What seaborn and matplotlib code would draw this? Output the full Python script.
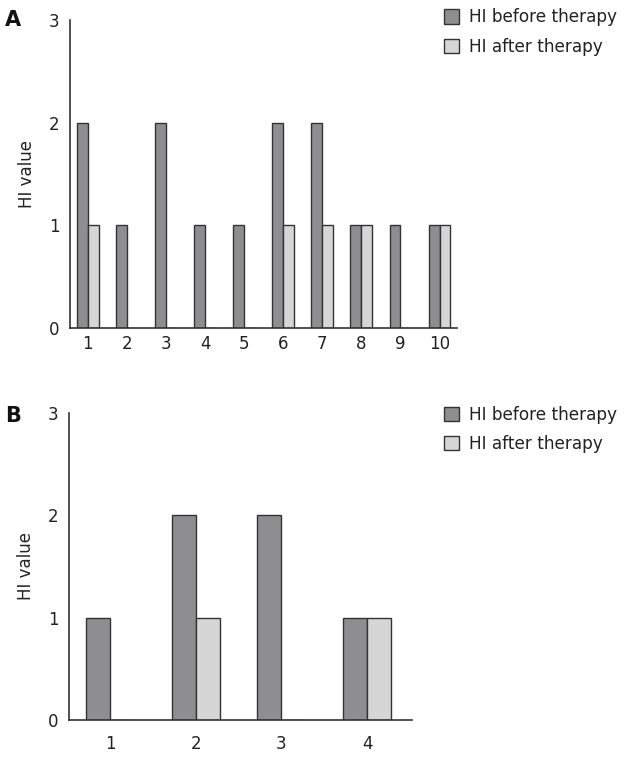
import pandas as pd
import matplotlib
matplotlib.use("Agg")
import matplotlib.pyplot as plt
import seaborn as sns
from matplotlib.patches import Patch

# Panel A data
patients_a = ["1", "2", "3", "4", "5", "6", "7", "8", "9", "10"]
before_a = [2, 1, 2, 1, 1, 2, 2, 1, 1, 1]
after_a = [1, 0, 0, 0, 0, 1, 1, 1, 0, 1]

# Panel B data
patients_b = ["1", "2", "3", "4"]
before_b = [1, 2, 2, 1]
after_b = [0, 1, 0, 1]

series_names = ["HI before therapy", "HI after therapy"]
dark = "#8e8e90"
light = "#d6d6d6"
edge = "#333333"

sns.set_style("white")
plt.rcParams["font.family"] = ["DejaVu Sans"]


def long_table(patients, before, after):
    rows = []
    for p, b, a in zip(patients, before, after):
        rows.append({"patient": p, "series": series_names[0], "value": b})
        rows.append({"patient": p, "series": series_names[1], "value": a})
    return pd.DataFrame(rows)


fig = plt.figure(figsize=(6.3, 7.67), dpi=100)
ax_a = fig.add_axes([0.111, 0.5724, 0.614, 0.4016])
ax_b = fig.add_axes([0.1095, 0.0613, 0.544, 0.4003])

panels = [
    (ax_a, long_table(patients_a, before_a, after_a), (-0.46, 9.44), "A", 0.974, 5),
    (ax_b, long_table(patients_b, before_b, after_b), (-0.48, 3.52), "B", 0.457, 11),
]

for ax, df, xlim, letter, ly, xpad in panels:
    sns.barplot(data=df, x="patient", y="value", hue="series",
                hue_order=series_names, palette=[dark, light],
                width=0.56, edgecolor=edge, linewidth=1.0,
                saturation=1, ax=ax, legend=False)
    ax.set_xlim(*xlim)
    ax.set_ylim(0, 3)
    ax.set_yticks([0, 1, 2, 3])
    ax.set_xlabel("")
    ax.set_ylabel("HI value", fontsize=12, color="#222222", labelpad=9)
    for s in ["top", "right"]:
        ax.spines[s].set_visible(False)
    for s in ["left", "bottom"]:
        ax.spines[s].set_color("#333333")
        ax.spines[s].set_linewidth(1.2)
    ax.tick_params(axis="y", direction="inout", length=5, width=1,
                   color="#333333", labelsize=12, labelcolor="#222222", pad=5)
    ax.tick_params(axis="x", length=0, labelsize=12, labelcolor="#222222", pad=xpad)
    fig.text(0.008, ly, letter, fontsize=15, fontweight="bold",
             ha="left", va="center", color="#111111")

handles = [Patch(facecolor=dark, edgecolor=edge, linewidth=1.0),
           Patch(facecolor=light, edgecolor=edge, linewidth=1.0)]
for top in [1.009, 0.491]:
    fig.legend(handles, series_names, loc="upper left",
               bbox_to_anchor=(0.68, top), frameon=False, fontsize=12.2,
               handlelength=0.9, handleheight=0.9, handletextpad=0.6,
               labelspacing=0.68, labelcolor="#222222")

fig.savefig("out.png", dpi=100)
